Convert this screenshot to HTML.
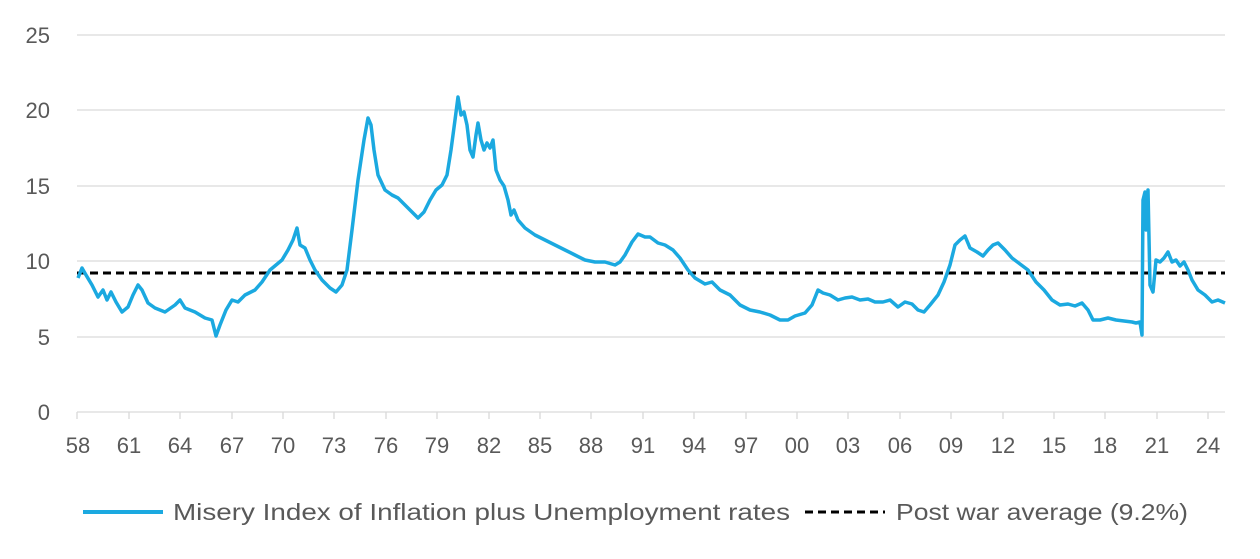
<!DOCTYPE html>
<html><head><meta charset="utf-8"><style>
body{margin:0;background:#fff;}
svg{display:block;font-family:"Liberation Sans",sans-serif;}
</style></head><body>
<svg width="1260" height="559" viewBox="0 0 1260 559">
<g stroke="#d9d9d9" stroke-width="1.3">
<line x1="77" y1="35" x2="1225" y2="35"/>
<line x1="77" y1="110" x2="1225" y2="110"/>
<line x1="77" y1="186" x2="1225" y2="186"/>
<line x1="77" y1="261" x2="1225" y2="261"/>
<line x1="77" y1="337" x2="1225" y2="337"/>
<line x1="77" y1="412" x2="1225" y2="412"/>
</g>
<g stroke="#d9d9d9" stroke-width="1.3">
<line x1="77" y1="412" x2="77" y2="419"/><line x1="129" y1="412" x2="129" y2="419"/><line x1="180" y1="412" x2="180" y2="419"/><line x1="232" y1="412" x2="232" y2="419"/><line x1="283" y1="412" x2="283" y2="419"/><line x1="334" y1="412" x2="334" y2="419"/><line x1="386" y1="412" x2="386" y2="419"/><line x1="437" y1="412" x2="437" y2="419"/><line x1="489" y1="412" x2="489" y2="419"/><line x1="540" y1="412" x2="540" y2="419"/><line x1="591" y1="412" x2="591" y2="419"/><line x1="643" y1="412" x2="643" y2="419"/><line x1="694" y1="412" x2="694" y2="419"/><line x1="746" y1="412" x2="746" y2="419"/><line x1="797" y1="412" x2="797" y2="419"/><line x1="848" y1="412" x2="848" y2="419"/><line x1="900" y1="412" x2="900" y2="419"/><line x1="951" y1="412" x2="951" y2="419"/><line x1="1003" y1="412" x2="1003" y2="419"/><line x1="1054" y1="412" x2="1054" y2="419"/><line x1="1105" y1="412" x2="1105" y2="419"/><line x1="1157" y1="412" x2="1157" y2="419"/><line x1="1208" y1="412" x2="1208" y2="419"/>
</g>
<g fill="#595959" font-size="22" text-anchor="end">
<text x="50" y="43">25</text><text x="50" y="118">20</text><text x="50" y="194">15</text><text x="50" y="269">10</text><text x="50" y="345">5</text><text x="50" y="420">0</text>
</g>
<g fill="#595959" font-size="22" text-anchor="middle">
<text x="78" y="453">58</text><text x="129" y="453">61</text><text x="180" y="453">64</text><text x="232" y="453">67</text><text x="283" y="453">70</text><text x="334" y="453">73</text><text x="386" y="453">76</text><text x="437" y="453">79</text><text x="489" y="453">82</text><text x="540" y="453">85</text><text x="591" y="453">88</text><text x="643" y="453">91</text><text x="694" y="453">94</text><text x="746" y="453">97</text><text x="797" y="453">00</text><text x="848" y="453">03</text><text x="900" y="453">06</text><text x="951" y="453">09</text><text x="1003" y="453">12</text><text x="1054" y="453">15</text><text x="1105" y="453">18</text><text x="1157" y="453">21</text><text x="1208" y="453">24</text>
</g>
<line x1="77" y1="273" x2="1225" y2="273" stroke="#000" stroke-width="3" stroke-dasharray="8,5"/>
<polyline fill="none" stroke="#1ba9e0" stroke-width="3.5" stroke-linejoin="round" points="78,278 82,268 86,275 92,285 98,297 103,290 107,300 111,292 116,302 122,312 128,307 133,295 138,285 142,290 148,303 155,308 165,312 175,305 180,300 185,308 195,312 205,318 212,320 216,336 220,325 226,310 232,300 238,302 245,295 255,290 262,282 270,270 276,265 282,260 288,250 293,240 297,228 300,245 305,248 310,260 315,270 322,280 330,288 336,292 342,285 347,270 352,230 358,180 364,140 368,118 371,125 374,150 378,175 385,190 392,195 398,198 405,205 412,212 418,218 424,212 430,200 436,190 442,185 447,175 451,150 455,120 458,97 461,115 464,112 467,125 470,150 473,157 476,135 478,123 481,140 484,150 487,143 490,148 493,140 496,170 500,180 504,186 508,200 511,215 514,210 518,220 525,228 535,235 545,240 555,245 565,250 575,255 585,260 595,262 605,262 615,265 620,262 625,255 632,242 638,234 645,237 650,237 658,243 665,245 673,250 680,258 688,270 695,278 705,284 712,282 720,290 730,295 740,305 750,310 760,312 770,315 780,320 788,320 795,316 805,313 812,305 818,290 823,293 830,295 838,300 845,298 852,297 860,300 868,299 875,302 883,302 890,300 898,307 905,302 912,304 918,310 924,312 930,305 938,295 944,282 950,265 955,245 960,240 965,236 970,248 977,252 983,256 988,250 993,245 998,243 1005,250 1012,258 1020,264 1028,270 1036,282 1044,290 1052,300 1060,305 1068,304 1075,306 1082,303 1088,310 1093,320 1100,320 1108,318 1116,320 1124,321 1132,322 1136,323 1140,322 1142,335 1143,200 1145,192 1146,230 1148,190 1150,285 1153,292 1156,260 1160,262 1164,258 1168,252 1172,262 1176,260 1180,266 1184,262 1188,270 1192,280 1198,290 1205,295 1212,302 1218,300 1225,303"/>
<line x1="83" y1="512" x2="163" y2="512" stroke="#1ba9e0" stroke-width="4"/>
<text x="173" y="520" fill="#595959" font-size="23" textLength="617" lengthAdjust="spacingAndGlyphs">Misery Index of Inflation plus Unemployment rates</text>
<line x1="805" y1="512" x2="885" y2="512" stroke="#000" stroke-width="3" stroke-dasharray="8,5"/>
<text x="896" y="520" fill="#595959" font-size="23" textLength="292" lengthAdjust="spacingAndGlyphs">Post war average (9.2%)</text>
</svg>
</body></html>
